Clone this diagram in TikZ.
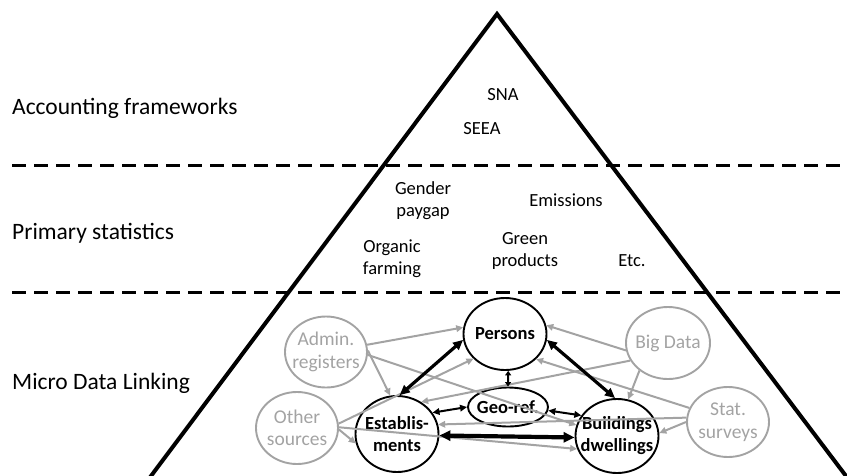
\documentclass[tikz,border=0pt]{standalone}
\usepackage{fontspec}
\setmainfont{Carlito}
\usetikzlibrary{arrows.meta,shapes.geometric}
\definecolor{quelle}{HTML}{A3A3A3}

\begin{document}
\begin{tikzpicture}[x=1pt,y=-1pt,
  ebene/.style={anchor=base west,inner sep=0pt,font=\fontsize{23.5}{28}\selectfont},
  stat/.style={align=center,font=\fontsize{18.5}{22}\selectfont},
  trenner/.style={line width=3pt,dash pattern=on 14pt off 8pt},
  outer/.style={ellipse,draw=quelle,line width=1.9pt,inner sep=0pt,minimum width=82pt,minimum height=71pt},
  outertext/.style={align=center,text=quelle,font=\fontsize{19.5}{22.5}\selectfont},
  core/.style={ellipse,draw=black,line width=1.9pt,inner sep=0pt,minimum width=83pt,minimum height=74pt},
  coretext/.style={align=center,font=\bfseries\fontsize{18.5}{22}\selectfont},
  garrow/.style={draw=quelle,line width=2pt,-{Triangle[length=7pt,width=6.5pt]}},
  link/.style={line width=3.2pt,{Triangle[length=10pt,width=9pt]}-{Triangle[length=10pt,width=9pt]}},
  thinlink/.style={line width=2pt,{Triangle[length=7pt,width=6.5pt]}-{Triangle[length=7pt,width=6.5pt]}}]
\useasboundingbox (0,0) rectangle (847,475);

% pyramid and levels
\draw[line width=4pt,line join=miter] (148,480) -- (497,14) -- (849,480);
\draw[trenner] (12,165) -- (840,165);
\draw[trenner] (12,292) -- (840,292);

\node[ebene] (acc) at (12,114) {Accounting frameworks};
\node[ebene] (prim) at (12,239) {Primary statistics};
\node[ebene] (micro) at (12,389) {Micro Data Linking};

\node[stat] (sna) at (503,95) {SNA};
\node[stat] (seea) at (482,129) {SEEA};
\node[stat] (gender) at (423,201) {Gender\\paygap};
\node[stat] (emis) at (566,200) {Emissions};
\node[stat] (organic) at (392,259) {Organic\\farming};
\node[stat] (green) at (525,251) {Green\\products};
\node[stat] (etc) at (632,261) {Etc.};

% micro data
\node[outer,label={[outertext]center:Admin.\\registers}] (adm) at (326,352) {};
\node[outer,minimum height=72pt,label={[outertext]center:Other\\sources}] (oth) at (297,428) {};
\node[outer,minimum width=84pt,minimum height=72pt,label={[outertext]center:Big Data}] (big) at (668,343) {};
\node[outer,minimum height=70pt,label={[outertext]center:Stat.\\surveys}] (sta) at (728,422) {};

\node[core,minimum height=72pt,label={[coretext]center:Persons}] (per) at (505,334) {};
\node[core,minimum width=80pt,minimum height=39pt,label={[coretext]center:Geo-ref.}] (geo) at (508,407) {};
\node[core,minimum height=76pt,label={[coretext]center:Establis-\\ments}] (est) at (397,434) {};
\node[core,label={[coretext]center:Buildings\\dwellings}] (bld) at (617,436) {};

\draw[garrow] (adm.10) -- (per.171);
\draw[garrow] (adm.2) -- (est.100);
\draw[garrow] (adm.-4) -- (bld.165);
\draw[garrow] (oth.6) -- (per.218);
\draw[garrow] (oth.-2) -- (est.193);
\draw[garrow] (oth.1) -- (bld.198);
\draw[garrow] (big.190) -- (per.12);
\draw[garrow] (big.205) -- (est.53);
\draw[garrow] (big.224) -- (bld.73);
\draw[garrow] (sta.160) -- (per.-39);
\draw[garrow] (sta.174) -- (est.13);
\draw[garrow] (sta.180) -- (bld.4);

\draw[link] (per.188) -- (est.86);
\draw[link] (per.-8) -- (bld.93);
\draw[line width=2pt,{Triangle[length=4.5pt,width=6pt]}-{Triangle[length=4.5pt,width=6pt]}] (per.-85) -- (geo.90);
\draw[thinlink] (est.31) -- (geo.180);
\draw[thinlink] (geo.-5) -- (bld.150);
\draw[line width=4.2pt,{Triangle[length=11pt,width=10pt]}-{Triangle[length=11pt,width=10pt]}] (est.-2) -- (bld.182);
\end{tikzpicture}
\end{document}
